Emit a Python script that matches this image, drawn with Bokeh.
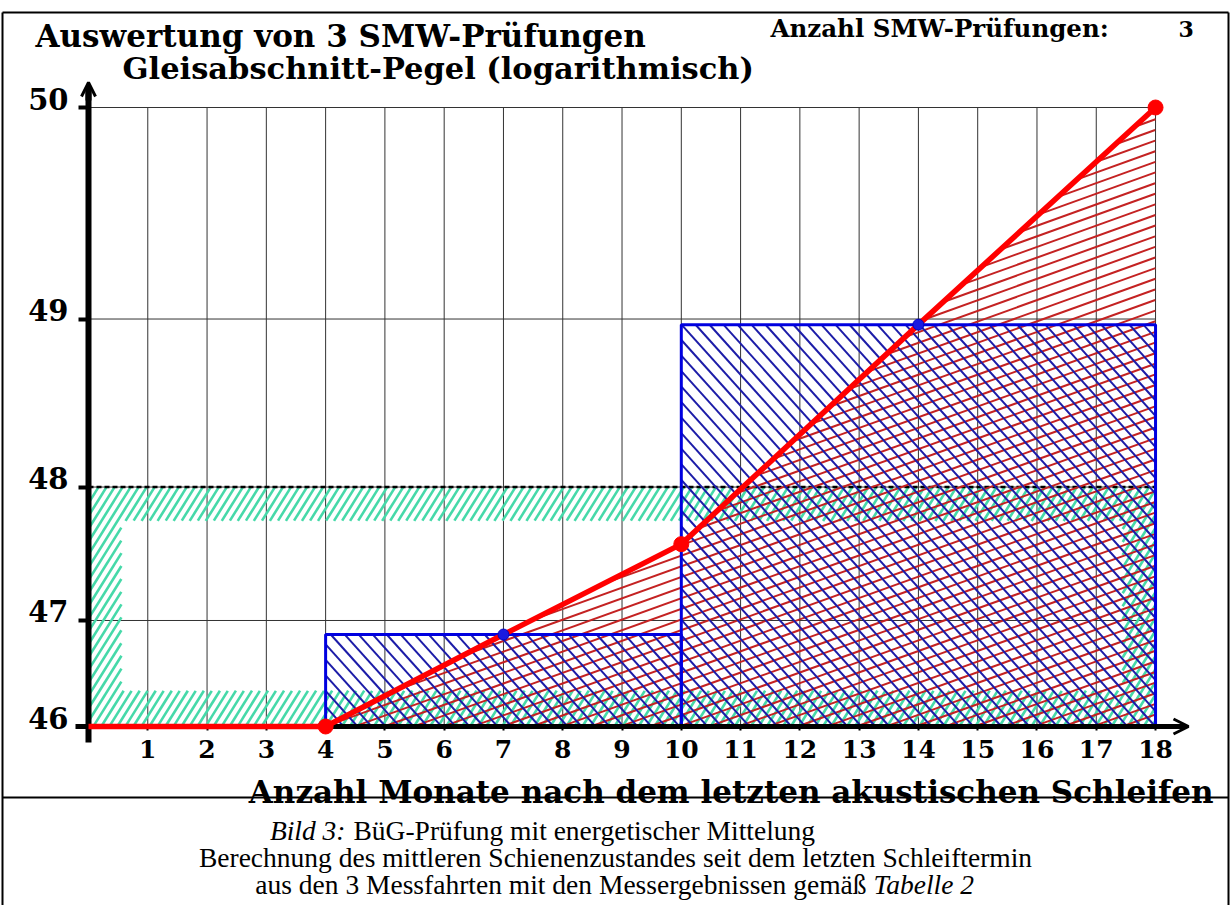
import numpy as np
from bokeh.plotting import figure
from bokeh.core.properties import value
from bokeh.models import (Range1d, FixedTicker, Label, LabelSet, Arrow, OpenHead,
                          CustomJSTickFormatter, ColumnDataSource)
from bokeh.embed import file_html
from bokeh.resources import INLINE

# ---------------- data ----------------
monate = [0, 4, 7, 10, 14, 18]
pegel = [46.0, 46.0, 46.88, 47.60, 48.97, 50.0]
rote_punkte_monate = [4, 10, 18]
rote_punkte_pegel = [46.0, 47.60, 50.0]
blaue_punkte_monate = [7, 14]
blaue_punkte_pegel = [46.88, 48.97]
stufen_links = [4, 10]
stufen_rechts = [10, 18]
stufen_pegel = [46.88, 48.97]
mittel_pegel = 48.0
basis_pegel = 46.0
monat_max = 18
x_ticks = list(range(1, 19))
y_ticks = [46, 47, 48, 49, 50]


def E(L):
    """level (dB) -> energy; the axis is linear in energy"""
    return 10 ** (np.asarray(L, dtype=float) / 10.0)


# ---------------- layout (pixels) ----------------
W, H = 1230, 905
X0PX = 88.0          # pixel of month 0
PXM = 59.28          # pixels per month
Y46PX = 726.0        # pixel of 46 dB
KY = 619.0 / float(E(50) - E(46))   # pixels per energy unit
E46 = float(E(basis_pegel))
E48 = float(E(mittel_pegel))
E50 = float(E(y_ticks[-1]))


def xd(px):
    return (np.asarray(px, dtype=float) - X0PX) / PXM


def yd(py):
    return E46 + (Y46PX - np.asarray(py, dtype=float)) / KY


def xp(x):
    return X0PX + PXM * np.asarray(x, dtype=float)


def yp(L):
    return Y46PX - (E(L) - E46) * KY


p = figure(width=W, height=H,
           x_range=Range1d(float(xd(0)), float(xd(W))),
           y_range=Range1d(float(yd(H)), float(yd(0))),
           output_backend="svg", toolbar_location=None, min_border=0,
           background_fill_color="white", border_fill_color="white",
           outline_line_color=None)

SERIF = "DejaVu Serif"

# ---------------- axes ----------------
xa = p.xaxis[0]
xa.fixed_location = E46
xa.bounds = (float(xd(75)), float(xd(1184)))
xa.ticker = FixedTicker(ticks=x_ticks)
xa.axis_line_width = 5
xa.axis_line_color = "black"
xa.major_tick_out = 4
xa.major_tick_in = 0
xa.major_tick_line_width = 2
xa.minor_tick_line_color = None
xa.major_label_standoff = 9
xa.major_label_text_font = SERIF
xa.major_label_text_font_style = "bold"
xa.major_label_text_font_size = "25px"
xa.major_label_text_color = "black"

ya = p.yaxis[0]
ya.fixed_location = 0
ya.bounds = (float(yd(742)), float(yd(86)))
ya.ticker = FixedTicker(ticks=[float(v) for v in E(y_ticks)])
ya.formatter = CustomJSTickFormatter(code="return '';")
ya.axis_line_width = 6
ya.axis_line_color = "black"
ya.major_tick_out = 10
ya.major_tick_in = 0
ya.major_tick_line_width = 4
ya.minor_tick_line_color = None

# y tick labels sit just above their tick, as in the original
ylab_src = ColumnDataSource(dict(x=[0] * len(y_ticks), y=[float(v) for v in E(y_ticks)],
                                 t=[str(v) for v in y_ticks]))
p.add_layout(LabelSet(x="x", y="y", text="t", source=ylab_src, x_offset=-20, y_offset=-2,
                      text_align="right", text_baseline="alphabetic",
                      text_font=value(SERIF), text_font_style="bold",
                      text_font_size=value("29px"), text_color="black"))

p.xgrid.grid_line_color = None
p.ygrid.grid_line_color = None

# grid lines inside the data area only
p.segment(x0=x_ticks, y0=[E46] * len(x_ticks), x1=x_ticks, y1=[E50] * len(x_ticks),
          line_color="#333333", line_width=1)
gy = [float(v) for v in E(y_ticks[1:])]
p.segment(x0=[0] * len(gy), y0=gy, x1=[monat_max] * len(gy), y1=gy,
          line_color="#333333", line_width=1)


# ---------------- hatching helper (pixel-space line families) ----------------
def hatch_segments(inside, angle_deg, spacing, bbox, phase=0.0, step=0.5):
    x0, y0, x1, y1 = bbox
    th = np.radians(angle_deg)
    d = np.array([np.cos(th), -np.sin(th)])
    n = np.array([np.sin(th), np.cos(th)])
    corners = np.array([[x0, y0], [x1, y0], [x0, y1], [x1, y1]], dtype=float)
    tp = corners @ n
    sp = corners @ d
    s = np.arange(sp.min() - 2, sp.max() + 2, step)
    xs_out, ys_out = [], []
    t = np.floor((tp.min() - phase) / spacing) * spacing + phase
    while t <= tp.max() + spacing:
        px = t * n[0] + s * d[0]
        py = t * n[1] + s * d[1]
        m = inside(px, py)
        if m.any():
            e = np.flatnonzero(np.diff(np.concatenate([[0], m.astype(int), [0]])))
            for a, b in zip(e[::2], e[1::2]):
                xs_out.append([float(xd(px[a])), float(xd(px[b - 1]))])
                ys_out.append([float(yd(py[a])), float(yd(py[b - 1]))])
        t += spacing
    return xs_out, ys_out


# ---------------- green mean-level frame ----------------
gx0, gx1 = float(xp(0)), float(xp(monat_max))
gy0, gy1 = float(yp(mittel_pegel)), Y46PX
BAND_L, BAND_T, BAND_B = 33.0, 34.0, 36.0


def in_green(px, py):
    outer = (px >= gx0) & (px <= gx1) & (py >= gy0) & (py <= gy1)
    hole = (px > gx0 + BAND_L) & (px < gx1 - BAND_L) & (py > gy0 + BAND_T) & (py < gy1 - BAND_B)
    return outer & ~hole


gxs, gys = hatch_segments(in_green, 58, 6.8, (gx0, gy0, gx1, gy1), phase=1.0)
p.multi_line(gxs, gys, line_color="#46d9a9", line_width=2.6)
p.quad(left=[0], right=[monat_max], bottom=[E46], top=[E48],
       fill_color=None, line_color="black", line_width=2.5, line_dash="5 3")

# ---------------- red area under the curve ----------------
rx = xp(monate[1:])
ry = yp(pegel[1:])


def in_red(px, py):
    return (px >= rx[0]) & (px <= rx[-1]) & (py <= Y46PX) & (py >= np.interp(px, rx, ry))


rxs, rys = hatch_segments(in_red, 19.8, 10.0, (rx[0], ry.min(), rx[-1], Y46PX), phase=3.0)
p.multi_line(rxs, rys, line_color="#c42222", line_width=2)

# ---------------- blue steps ----------------
bl, br, bt = xp(stufen_links), xp(stufen_rechts), yp(stufen_pegel)


def in_blue(px, py):
    m = np.zeros(px.shape, dtype=bool)
    for l, r, t in zip(bl, br, bt):
        m |= (px >= l) & (px <= r) & (py >= t) & (py <= Y46PX)
    return m


bxs, bys = hatch_segments(in_blue, -48, 10.4, (bl.min(), bt.min(), br.max(), Y46PX), phase=2.0)
p.multi_line(bxs, bys, line_color="#1c1ca8", line_width=2)
p.quad(left=stufen_links, right=stufen_rechts, bottom=[E46, E46],
       top=[float(v) for v in E(stufen_pegel)], fill_color=None,
       line_color="#0000e0", line_width=3)

# ---------------- red curve (drawn above the axis line) ----------------
p.line(monate, E(pegel), line_color="#ff0000", line_width=5.5, level="overlay")
p.scatter(rote_punkte_monate, E(rote_punkte_pegel), size=15,
          fill_color="#ff0000", line_color="#ff0000", level="overlay")
p.scatter(blaue_punkte_monate, E(blaue_punkte_pegel), size=11,
          fill_color="#1a1ae0", line_color="#0000c0", level="overlay")

# ---------------- arrows ----------------
p.add_layout(Arrow(end=OpenHead(size=15, line_width=3, line_color="black"),
                   x_start=float(xd(1170)), y_start=E46, x_end=float(xd(1188)), y_end=E46,
                   line_width=5, line_color="black"))
p.add_layout(Arrow(end=OpenHead(size=14, line_width=3, line_color="black"),
                   x_start=0, y_start=float(yd(100)), x_end=0, y_end=float(yd(82)),
                   line_width=6, line_color="black"))

# ---------------- frame lines ----------------
fx = [[2, 2], [1228, 1228], [2, 1228], [2, 1228]]
fy = [[905, 12], [905, 12], [12, 12], [797, 797]]
p.multi_line([[float(v) for v in xd(a)] for a in fx], [[float(v) for v in yd(a)] for a in fy],
             line_color="black", line_width=2)


# ---------------- texts ----------------
def lab(x, y, text, size, font=SERIF, style="bold", align="left"):
    p.add_layout(Label(x=x, y=H - y, x_units="screen", y_units="screen", text=text,
                       text_font=font, text_font_style=style, text_font_size=size,
                       text_align=align, text_baseline="alphabetic", text_color="black"))


lab(35, 35, "Auswertung von 3 SMW-Prüfungen", "31px")
lab(770, 28, "Anzahl SMW-Prüfungen:", "24.5px")
lab(1178, 28, "3", "22px")
lab(122, 67, "Gleisabschnitt-Pegel (logarithmisch)", "30.5px")
lab(1213, 791, "Anzahl Monate nach dem letzten akustischen Schleifen", "31px", align="right")

CAP = "Liberation Serif"
CS = "27.5px"
lab(345, 830, "Bild 3:", CS, font=CAP, style="italic", align="right")
lab(353, 830, "BüG-Prüfung mit energetischer Mittelung", CS, font=CAP, style="normal")
lab(615, 857, "Berechnung des mittleren Schienenzustandes seit dem letzten Schleiftermin",
    CS, font=CAP, style="normal", align="center")
lab(866, 884, "aus den 3 Messfahrten mit den Messergebnissen gemäß", CS,
    font=CAP, style="normal", align="right")
lab(873, 884, "Tabelle 2", CS, font=CAP, style="italic")

open("out.html", "w").write(file_html(p, INLINE))
